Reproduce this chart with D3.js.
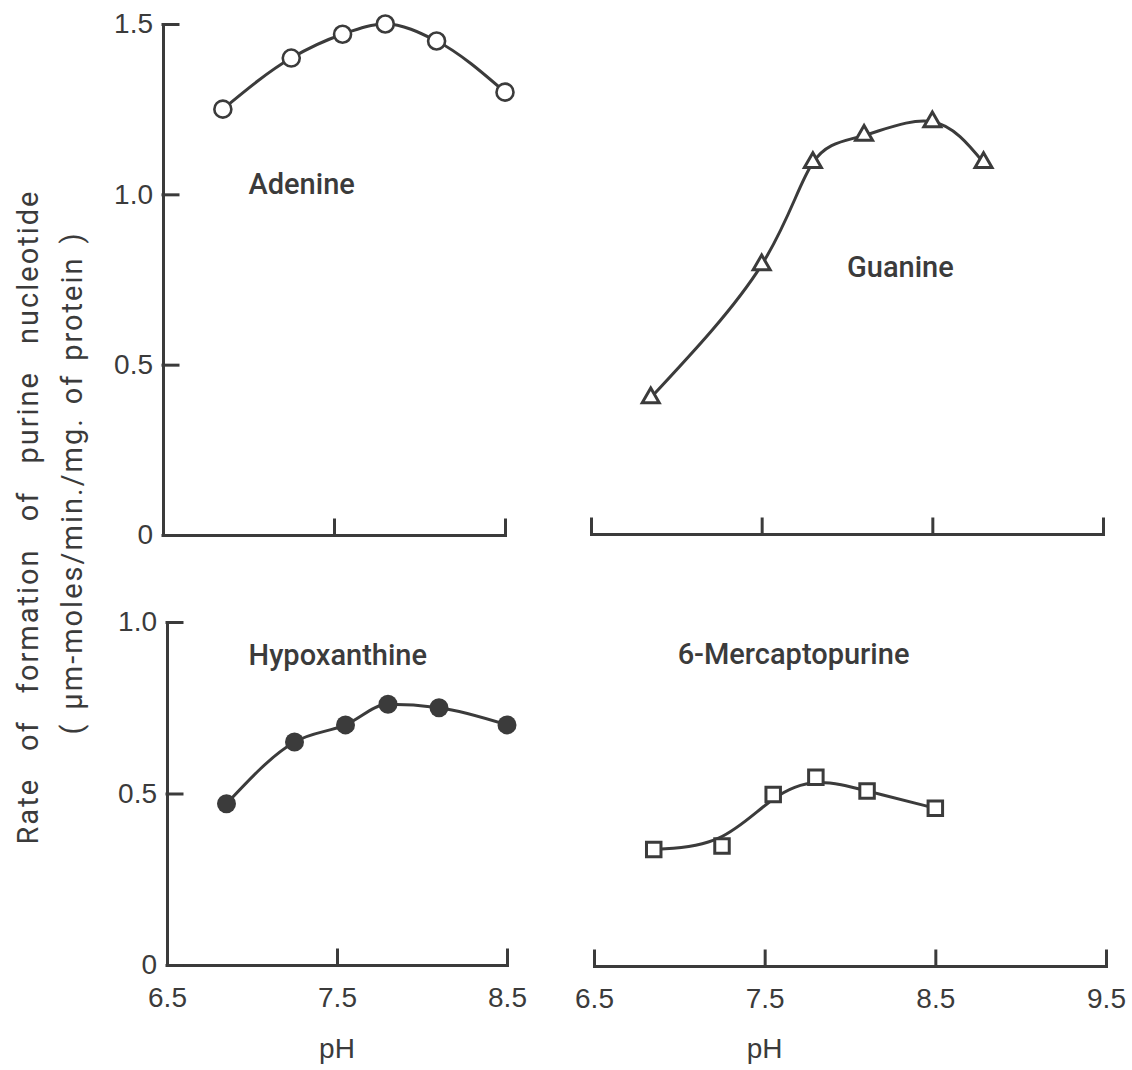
<!DOCTYPE html>
<html>
<head>
    <title>Purine nucleotide formation vs pH</title>
    <script src="https://cdn.jsdelivr.net/npm/d3@7/dist/d3.min.js" charset="utf-8"></script>
    <style type="text/css">
        body { margin: 0; background: #fff; }
        .chart { display: block; }
        .chart .tick text, .ph-label {
            font-family: "Liberation Sans Narrow", "Liberation Sans", sans-serif;
            font-size: 28px;
            fill: #3b3b3b;
        }
        .name {
            font-family: Roboto, "Liberation Sans", sans-serif;
            font-weight: 500;
            font-size: 29px;
            fill: #3b3b3b;
        }
        .ytitle {
            font-family: Roboto, "Liberation Sans", sans-serif;
            font-size: 29px;
            letter-spacing: 2px;
            fill: #3b3b3b;
        }
    </style>
</head>
<body>
    <svg class="chart"></svg>

    <script type="text/javascript">
    var width = 1132;
    var height = 1070;
    var ink = '#3b3b3b';

    // values
    var adeninePH   = [6.85, 7.25, 7.55, 7.8, 8.1, 8.5];
    var adenineRate = [1.25, 1.40, 1.47, 1.50, 1.45, 1.30];

    var guaninePH   = [6.85, 7.5, 7.8, 8.1, 8.5, 8.8];
    var guanineRate = [0.40, 0.79, 1.09, 1.17, 1.21, 1.09];

    var hypoxPH     = [6.85, 7.25, 7.55, 7.8, 8.1, 8.5];
    var hypoxRate   = [0.47, 0.65, 0.70, 0.76, 0.75, 0.70];

    var mercPH      = [6.85, 7.25, 7.55, 7.8, 8.1, 8.5];
    var mercRate    = [0.34, 0.35, 0.50, 0.55, 0.51, 0.46];

    var topYTicks = [0, 0.5, 1.0, 1.5];
    var bottomYTicks = [0, 0.5, 1.0];
    var shortXTicks = [6.5, 7.5, 8.5];
    var longXTicks = [6.5, 7.5, 8.5, 9.5];

    var chart = d3.select('.chart')
        .attr('width', width)
        .attr('height', height);

    function zip(xs, ys) {
        return xs.map(function (x, i) { return { ph: x, rate: ys[i] }; });
    }

    var panels = [
        { name: 'Adenine', data: zip(adeninePH, adenineRate), marker: 'open-circle',
          curve: d3.curveMonotoneX,
          x: d3.scaleLinear().domain([6.5, 8.5]).range([163, 505]),
          y: d3.scaleLinear().domain([0, 1.5]).range([535, 24]),
          yTicks: topYTicks, xTicks: shortXTicks, yAxis: true, xLabels: false,
          label: [7.0, 1.0] },
        { name: 'Guanine', data: zip(guaninePH, guanineRate), marker: 'triangle',
          curve: d3.curveNatural,
          x: d3.scaleLinear().domain([6.5, 9.5]).range([591, 1103]),
          y: d3.scaleLinear().domain([0, 1.5]).range([534, 23]),
          yTicks: null, xTicks: longXTicks, yAxis: false, xLabels: false,
          label: [8.0, 0.755] },
        { name: 'Hypoxanthine', data: zip(hypoxPH, hypoxRate), marker: 'dot',
          curve: d3.curveMonotoneX,
          x: d3.scaleLinear().domain([6.5, 8.5]).range([167, 507]),
          y: d3.scaleLinear().domain([0, 1.0]).range([965, 622]),
          yTicks: bottomYTicks, xTicks: shortXTicks, yAxis: true, xLabels: true,
          label: [6.98, 0.875] },
        { name: '6-Mercaptopurine', data: zip(mercPH, mercRate), marker: 'square',
          curve: d3.curveBasis,   // hand-smoothed in the original, passes above 7.25
          x: d3.scaleLinear().domain([6.5, 9.5]).range([594, 1106]),
          y: d3.scaleLinear().domain([0, 1.0]).range([966, 623]),
          yTicks: null, xTicks: longXTicks, yAxis: false, xLabels: true,
          label: [6.99, 0.88] }
    ];

    var fmt = function (d) { return d === 0 ? '0' : d.toFixed(1); };

    panels.forEach(function (p) {
        var g = chart.append('g');
        var y0 = p.y(0);

        // x axis, ticks pointing up
        var xAxis = d3.axisBottom(p.x)
            .tickValues(p.xTicks)
            .tickSizeInner(-15)
            .tickSizeOuter(0)
            .tickPadding(22)
            .tickFormat(p.xLabels ? fmt : '');
        g.append('g')
            .attr('transform', 'translate(0,' + y0 + ')')
            .call(xAxis);

        if (p.yAxis) {
            var yAxis = d3.axisLeft(p.y)
                .tickValues(p.yTicks)
                .tickSizeInner(-15)
                .tickSizeOuter(0)
                .tickPadding(10)
                .tickFormat(fmt);
            g.append('g')
                .attr('transform', 'translate(' + p.x.range()[0] + ',0)')
                .call(yAxis);
        }

        g.selectAll('.domain, .tick line')
            .attr('stroke', ink)
            .attr('stroke-width', 3)
            .attr('stroke-linecap', 'square');
        g.selectAll('.tick text').attr('fill', ink);

        // fitted curve
        var line = d3.line()
            .x(function (d) { return p.x(d.ph); })
            .y(function (d) { return p.y(d.rate); })
            .curve(p.curve);

        g.append('path')
            .datum(p.data)
            .attr('d', line)
            .attr('fill', 'none')
            .attr('stroke', ink)
            .attr('stroke-width', 3);

        // markers
        var pts = g.selectAll('.pt')
            .data(p.data)
            .enter()
                .append('g')
                .attr('class', 'pt')
                .attr('transform', function (d) {
                    return 'translate(' + p.x(d.ph) + ',' + p.y(d.rate) + ')';
                });

        if (p.marker === 'open-circle') {
            pts.append('circle').attr('r', 8.5)
                .attr('fill', '#fff').attr('stroke', ink).attr('stroke-width', 2.6);
        } else if (p.marker === 'dot') {
            pts.append('circle').attr('r', 9.5).attr('fill', ink);
        } else if (p.marker === 'triangle') {
            pts.append('path')
                .attr('d', d3.symbol().type(d3.symbolTriangle).size(125))
                .attr('fill', '#fff').attr('stroke', ink).attr('stroke-width', 3)
                .attr('stroke-linejoin', 'miter');
        } else {
            pts.append('path')
                .attr('d', d3.symbol().type(d3.symbolSquare).size(210))
                .attr('fill', '#fff').attr('stroke', ink).attr('stroke-width', 3);
        }

        g.append('text')
            .attr('class', 'name')
            .attr('x', p.x(p.label[0]))
            .attr('y', p.y(p.label[1]))
            .text(p.name);

        if (p.xLabels) {
            g.append('text')
                .attr('class', 'ph-label')
                .attr('text-anchor', 'middle')
                .attr('x', p.x(7.5))
                .attr('y', 1058)
                .text('pH');
        }
    });

    // rotated y axis title, words spread out like the original
    var titleLines = [
        { text: 'Rate of formation of purine nucleotide', x: 38, cy: 517, len: 655 },
        { text: '( µm-moles/min./mg. of protein )', x: 82, cy: 483, len: 503 }
    ];

    titleLines.forEach(function (t) {
        var el = chart.append('text')
            .attr('class', 'ytitle')
            .attr('text-anchor', 'middle')
            .attr('transform', 'translate(' + t.x + ',' + t.cy + ') rotate(-90)')
            .text(t.text);
        var spaces = t.text.split(' ').length - 1;
        var cur = el.node().getComputedTextLength();
        el.style('word-spacing', Math.max(0, (t.len - cur) / spaces) + 'px');
    });
    </script>
</body>
</html>
